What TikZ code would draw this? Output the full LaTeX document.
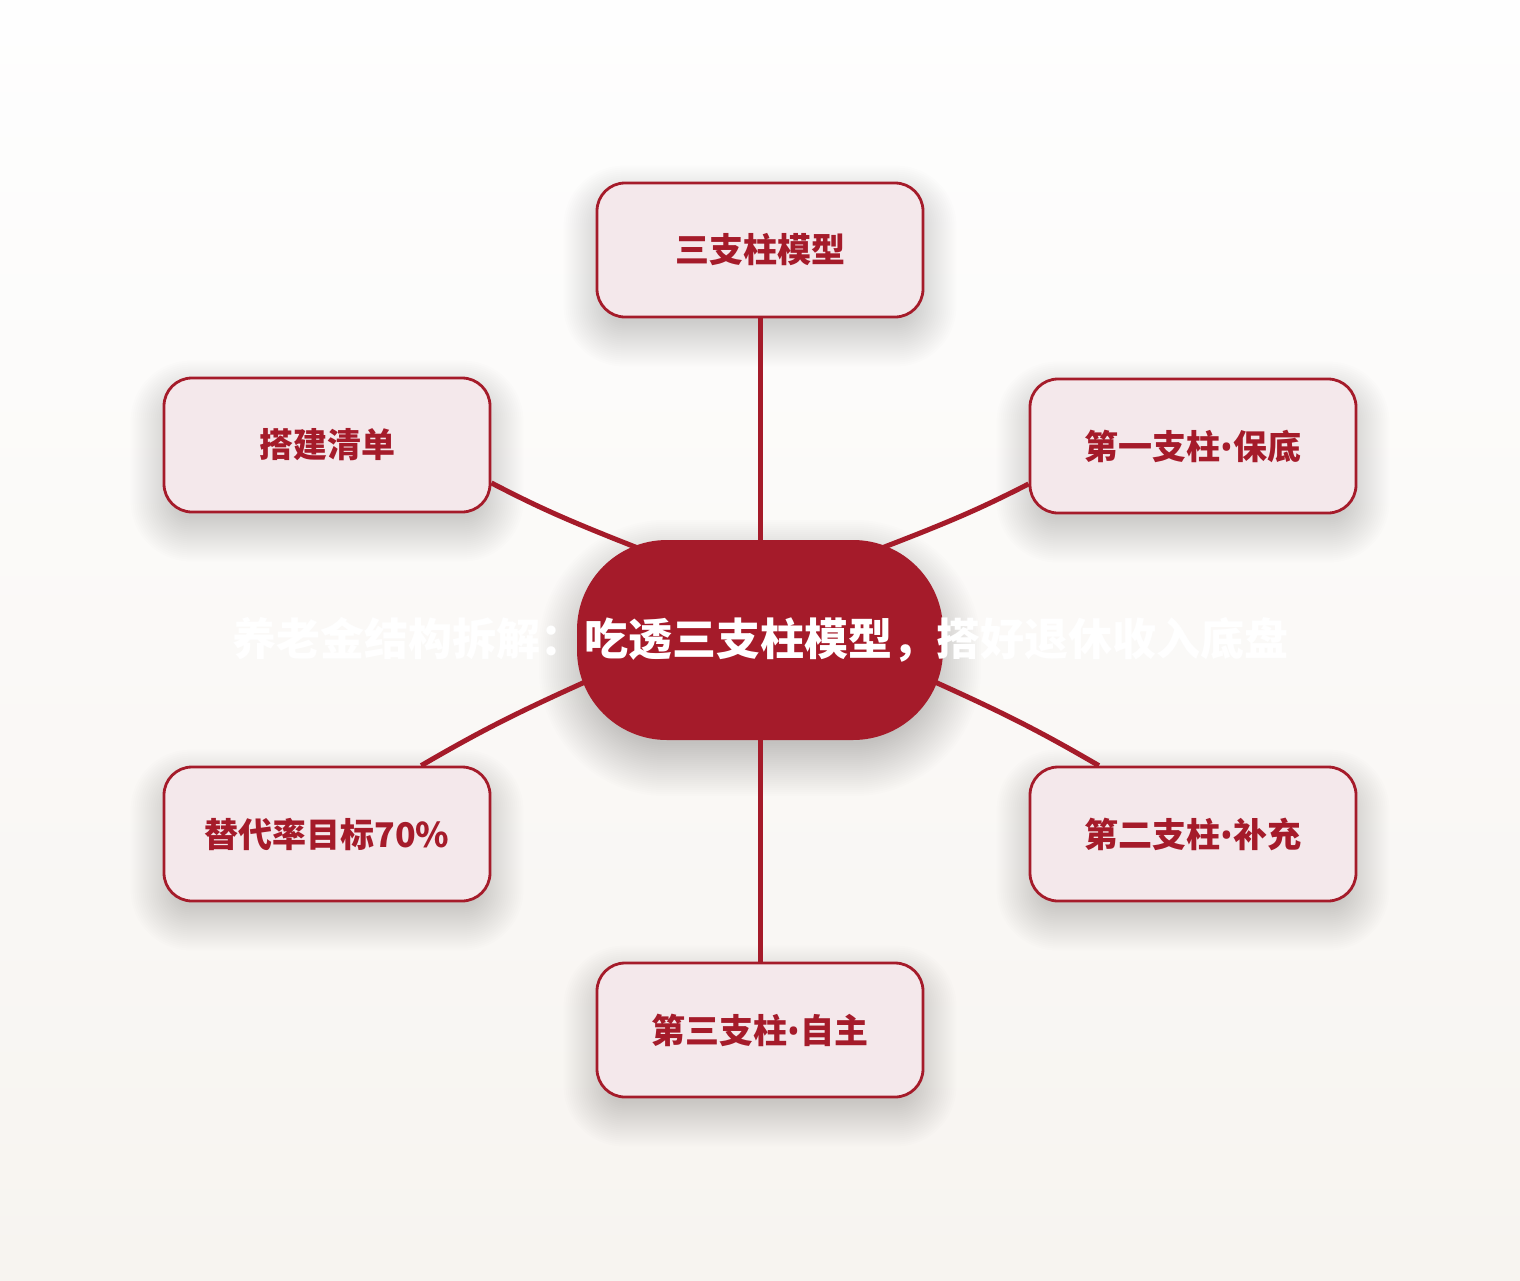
\documentclass[tikz,border=0pt]{standalone}
\usepackage{fontspec}
\setmainfont{Noto Sans CJK SC}
\newfontfamily\latinfont{Noto Sans}
\usetikzlibrary{calc}
\definecolor{brand}{HTML}{A51B2A}
\definecolor{leaf}{HTML}{F4E8EB}
\definecolor{bgtop}{HTML}{FEFEFE}
\definecolor{bgbot}{HTML}{F7F4F0}
\definecolor{shadowgray}{HTML}{3A3630}
\pgfdeclarelayer{bg}
\pgfdeclarelayer{shadowlayer}
\pgfdeclarelayer{edges}
\pgfsetlayers{bg,shadowlayer,edges,main}
\newcommand{\dotsep}{{\latinfont\bfseries •}}
\tikzset{
  leafbox/.style={draw=brand, line width=2.8pt, fill=leaf, rounded corners=28pt,
    minimum width=326pt, minimum height=134pt, inner sep=0pt,
    font=\fontsize{34}{40}\selectfont\bfseries, text=brand},
  hubbox/.style={fill=brand, rounded corners=90pt, minimum width=366pt, minimum height=200pt,
    inner sep=0pt},
  hubtext/.style={font=\fontsize{44}{50}\selectfont\bfseries, text=white},
  link/.style={draw=brand, line width=5pt},
  softshade/.style={fill=shadowgray, fill opacity=0.008, draw=none}
}
\newcommand{\leafshadow}[1]{%
  \foreach \s in {-12,-10,...,32}{
    \fill[softshade, rounded corners=28+\s]
      ($(#1.south west)+(-\s,16+\s)$) rectangle ($(#1.north east)+(\s,16-\s)$);
  }}
\newcommand{\hubshadow}[1]{%
  \foreach \s in {-14,-12,...,38}{
    \fill[softshade, fill opacity=0.009, rounded corners=90+\s]
      ($(#1.south west)+(-\s,18+\s)$) rectangle ($(#1.north east)+(\s,18-\s)$);
  }}
\begin{document}
\begin{tikzpicture}[x=1pt,y=-1pt]
\begin{pgfonlayer}{bg}
  \shade[top color=bgtop, bottom color=bgbot] (0,0) rectangle (1520,1280);
\end{pgfonlayer}
\useasboundingbox (0,0) rectangle (1520,1280);

\node[hubbox, label={[hubtext]center:养老金结构拆解：吃透三支柱模型，搭好退休收入底盘}] (c) at (760,640) {};

\node[leafbox] (t)  at (760,250)  {三支柱模型};
\node[leafbox] (tl) at (327,445)  {搭建清单};
\node[leafbox] (tr) at (1193,446) {第一支柱\dotsep 保底};
\node[leafbox] (bl) at (327,834)  {替代率目标70\%};
\node[leafbox] (br) at (1193,834) {第二支柱\dotsep 补充};
\node[leafbox] (b)  at (760,1030) {第三支柱\dotsep 自主};

\begin{pgfonlayer}{shadowlayer}
  \hubshadow{c}
  \leafshadow{t}
  \leafshadow{tl}
  \leafshadow{tr}
  \leafshadow{bl}
  \leafshadow{br}
  \leafshadow{b}
\end{pgfonlayer}

\begin{pgfonlayer}{edges}
  \draw[link] (c.north) -- (t.south);
  \draw[link] (c.south) -- (b.north);
  \draw[link, shorten <=-30pt] (c.145) to[bend left=3] (tl.-13);
  \draw[link, shorten <=-30pt] (c.35) to[bend right=3] (tr.193);
  \draw[link, shorten <=-20pt] (c.194) to[bend right=3] (bl.36);
  \draw[link, shorten <=-20pt] (c.-14) to[bend left=3] (br.144);
\end{pgfonlayer}
\end{tikzpicture}
\end{document}
